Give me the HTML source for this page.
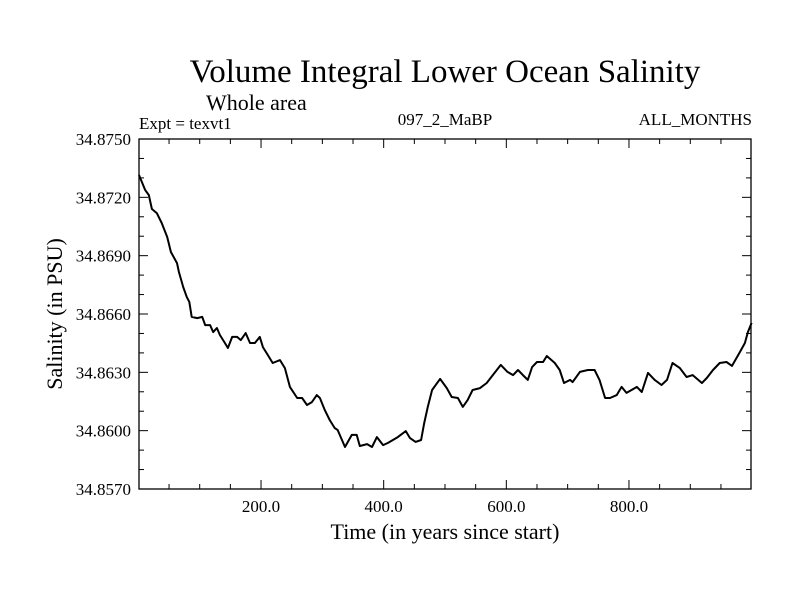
<!DOCTYPE html>
<html><head><meta charset="utf-8"><style>
body{margin:0;background:#fff}
svg{display:block;font-family:"Liberation Serif",serif}
</style></head><body>
<svg id="chart" width="800" height="600" viewBox="0 0 800 600">
<text x="445" y="82" text-anchor="middle" font-size="33">Volume Integral Lower Ocean Salinity</text>
<text x="206" y="110" font-size="22">Whole area</text>
<text x="139" y="129" font-size="17">Expt = texvt1</text>
<text x="445" y="125" text-anchor="middle" font-size="17">097_2_MaBP</text>
<text x="752" y="125" text-anchor="end" font-size="17">ALL_MONTHS</text>
<text x="445" y="539" text-anchor="middle" font-size="22">Time (in years since start)</text>
<text transform="translate(62,314) rotate(-90)" text-anchor="middle" font-size="22">Salinity (in PSU)</text>
<g id="axes"></g>
<path id="line" fill="none" stroke="#000" stroke-width="2" stroke-linejoin="round"/>
<rect x="139" y="139" width="612" height="350" fill="none" stroke="#000" stroke-width="1.3"/>
</svg>
<script>
const years=[1,11,17,22,30,38,47,53,63,66,73,79,83,87,96,104,109,117,122,128,133,141,146,153,161,167,175,182,190,198,203,211,219,231,239,247,259,267,275,283,291,296,304,312,320,325,337,348,356,361,373,381,389,399,407,423,436,443,452,461,466,472,479,492,503,511,521,529,537,545,557,568,578,591,602,611,619,627,635,642,650,660,666,679,687,694,704,708,720,733,744,752,761,769,780,788,796,813,821,831,842,853,862,871,883,894,904,919,927,937,948,959,968,981,989,994,1000];
const salinity=[34.87315,34.87238,34.87212,34.87140,34.87119,34.87068,34.86996,34.86919,34.86862,34.86816,34.86739,34.86687,34.86662,34.86585,34.86579,34.86585,34.86543,34.86543,34.86507,34.86528,34.86492,34.86451,34.86425,34.86482,34.86482,34.86466,34.86502,34.86451,34.86451,34.86482,34.86430,34.86389,34.86348,34.86363,34.86322,34.86225,34.86168,34.86168,34.86132,34.86147,34.86183,34.86168,34.86106,34.86055,34.86014,34.86003,34.85916,34.85978,34.85978,34.85921,34.85931,34.85916,34.85967,34.85926,34.85937,34.85967,34.85998,34.85962,34.85942,34.85952,34.86039,34.86122,34.86209,34.86266,34.86219,34.86173,34.86168,34.86122,34.86158,34.86209,34.86219,34.86245,34.86286,34.86338,34.86302,34.86286,34.86312,34.86286,34.86261,34.86327,34.86353,34.86353,34.86384,34.86348,34.86312,34.86245,34.86261,34.86250,34.86302,34.86312,34.86312,34.86261,34.86168,34.86168,34.86183,34.86225,34.86194,34.86225,34.86199,34.86297,34.86261,34.86235,34.86261,34.86348,34.86322,34.86276,34.86286,34.86245,34.86271,34.86312,34.86348,34.86353,34.86333,34.86405,34.86451,34.86507,34.86554];
const yTicks=[34.8570,34.8600,34.8630,34.8660,34.8690,34.8720,34.8750];
const xTicks=[200,400,600,800];
const X0=139,X1=751,Y0=489,Y1=139,xMin=1,xMax=999,yMin=34.857,yMax=34.875;
const sx=v=>X0+(v-xMin)/(xMax-xMin)*(X1-X0);
const sy=v=>Y0-(v-yMin)/(yMax-yMin)*(Y0-Y1);
const ns="http://www.w3.org/2000/svg",g=document.getElementById('axes');
function ln(x1,y1,x2,y2,name){const l=document.createElementNS(ns,'line');
l.setAttribute('x1',x1);l.setAttribute('y1',y1);l.setAttribute('x2',x2);l.setAttribute('y2',y2);
l.setAttribute('stroke','#000');l.setAttribute('stroke-width','1');


g.appendChild(l);}
function tx(x,y,s,anchor,name){const t=document.createElementNS(ns,'text');
t.setAttribute('x',x);t.setAttribute('y',y);t.setAttribute('text-anchor',anchor);t.setAttribute('font-size','17');t.textContent=s;


g.appendChild(t);}
for(let v=34.857;v<=34.8751;v+=0.001){const y=sy(v);const major=Math.abs((v-34.857)/0.003-Math.round((v-34.857)/0.003))<1e-6;const L=major?9:5;
ln(X0,y,X0+L,y,'y-tick');ln(X1,y,X1-L,y,'y-tick-right');}
yTicks.forEach(v=>tx(X0-8,sy(v)+6,v.toFixed(4),'end','y-tick-label'));
for(let v=50;v<xMax;v+=50){const x=sx(v);const L=(v%200===0)?9:5;ln(x,Y0,x,Y0-L,'x-tick');ln(x,Y1,x,Y1+L,'x-tick-top');}
xTicks.forEach(v=>tx(sx(v),Y0+23,v.toFixed(1),'middle','x-tick-label'));
document.getElementById('line').setAttribute('d',years.map((y,i)=>(i?'L':'M')+sx(y).toFixed(1)+','+sy(salinity[i]).toFixed(1)).join(''));
</script>
</body></html>
